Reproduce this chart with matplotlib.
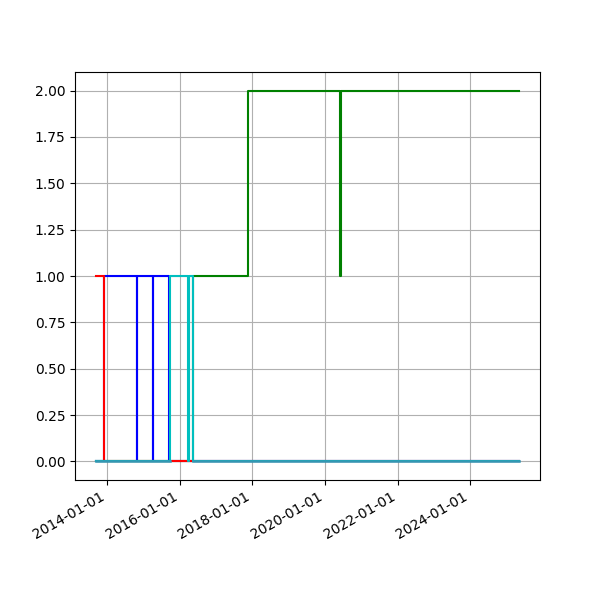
import matplotlib
matplotlib.use('Agg')
import matplotlib.pyplot as plt
import matplotlib.dates as mdates
import numpy as np
import pandas as pd

red_dates = ['2013-09-12', '2013-12-04', '2025-05-05']
red_vals = [1, 0, 0]

blue_dates = ['2013-09-12', '2013-12-04', '2014-10-27', '2014-11-01',
              '2015-04-06', '2015-04-11', '2015-09-12', '2025-05-05']
blue_vals = [0, 1, 0, 1, 0, 1, 0, 0]

cyan_dates = ['2013-09-12', '2015-09-22', '2016-03-28', '2016-04-02',
              '2016-05-12', '2025-05-05']
cyan_vals = [0, 1, 0, 1, 0, 0]

green_dates = ['2013-09-12', '2016-05-18', '2017-11-16', '2020-06-03',
               '2020-06-08', '2025-05-05']
green_vals = [0, 1, 2, 1, 2, 2]

base_dates = ['2013-09-12', '2015-09-22', '2016-05-12', '2025-05-05']
base_vals = [0, np.nan, 0, 0]

fig, ax = plt.subplots(figsize=(6, 6), dpi=100)

def draw(dates, vals, color, lw=1.5):
    ax.plot(pd.to_datetime(dates), vals, drawstyle='steps-post', color=color, lw=lw)

draw(blue_dates, blue_vals, 'b')
draw(green_dates, green_vals, 'g')
draw(red_dates, red_vals, 'r')
draw(cyan_dates, cyan_vals, 'c')
draw(base_dates, base_vals, '#3596b2', lw=1.8)

ax.xaxis.set_major_locator(mdates.YearLocator(2))
ax.xaxis.set_major_formatter(mdates.DateFormatter('%Y-%m-%d'))
ax.grid(True)
fig.autofmt_xdate()

fig.savefig('out.png')
